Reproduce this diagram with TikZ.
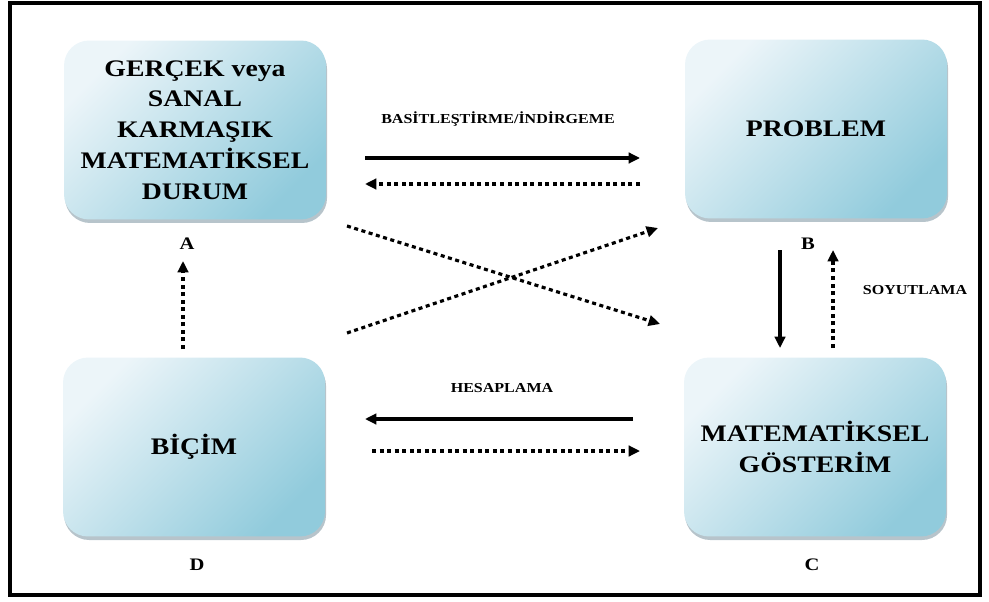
\documentclass[tikz,border=0pt]{standalone}
\usepackage{fontspec}
\setmainfont{Liberation Serif}[FakeStretch=1.17]
\usetikzlibrary{arrows.meta, shadows}

\definecolor{boxlight}{RGB}{236,245,249}
\definecolor{boxdark}{RGB}{145,203,220}
\definecolor{boxshade}{RGB}{95,125,140}

\tikzset{
    box/.style={rounded corners=0.5cm, minimum width=5.24cm, minimum height=3.58cm,
        inner sep=0pt, align=center, top color=boxlight, bottom color=boxdark,
        shading angle=45,
        drop shadow={shadow xshift=0.6pt, shadow yshift=-2pt, opacity=0.45, fill=boxshade},
        font=\fontsize{13.5}{17.5}\selectfont\bfseries},
    letter/.style={font=\fontsize{10}{12}\selectfont\bfseries},
    tag/.style={font=\fontsize{7.8}{9}\selectfont\bfseries},
    full/.style={line width=1.8pt, -{Triangle[length=6.5pt, width=6pt]}},
    dots/.style={line width=1.8pt, dash pattern=on 2.3pt off 2pt,
        -{Triangle[length=6.5pt, width=6pt]}}
}

\begin{document}
\begin{tikzpicture}[x=0.02cm, y=-0.02cm]
    \useasboundingbox (0,0) rectangle (989,601);
    \draw[line width=2.2pt] (10,3) rectangle (980,595);

    % the four boxes
    \node[box] (A) at (195,130) {GERÇEK veya\\SANAL\\KARMAŞIK\\MATEMATİKSEL\\DURUM};
    \node[box] (B) at (816,129) {PROBLEM};
    \node[box] (C) at (815,447) {MATEMATİKSEL\\GÖSTERİM};
    \node[box] (D) at (194,447) {BİÇİM};

    \node[letter] (la) at (187,244) {A};
    \node[letter] (lb) at (808,244) {B};
    \node[letter] (lc) at (812,565) {C};
    \node[letter] (ld) at (197,565) {D};

    % arrow ends
    \coordinate (ab1) at (365,158);  \coordinate (ba1) at (640,158);
    \coordinate (ab2) at (365,184);  \coordinate (ba2) at (640,184);
    \coordinate (ac) at (347,226);   \coordinate (ca) at (660,324);
    \coordinate (db) at (347,333);   \coordinate (bd) at (658,228);
    \coordinate (bc1) at (780,250);  \coordinate (cb1) at (780,348);
    \coordinate (bc2) at (833,250);  \coordinate (cb2) at (833,348);
    \coordinate (cd1) at (633,419);  \coordinate (dc1) at (365,419);
    \coordinate (cd2) at (640,451);  \coordinate (dc2) at (372,451);
    \coordinate (da) at (183,349);   \coordinate (ad) at (183,261);

    \draw[full] (ab1) -- (ba1);
    \draw[dots] (ba2) -- (ab2);
    \draw[dots] (ac) -- (ca);
    \draw[dots] (db) -- (bd);
    \draw[full] (bc1) -- (cb1);
    \draw[dots] (cb2) -- (bc2);
    \draw[full] (cd1) -- (dc1);
    \draw[dots] (dc2) -- (cd2);
    \draw[dots] (da) -- (ad);

    \node[tag] (t1) at (498,119) {BASİTLEŞTİRME/İNDİRGEME};
    \node[tag] (t2) at (915,290) {SOYUTLAMA};
    \node[tag] (t3) at (502,388) {HESAPLAMA};
\end{tikzpicture}
\end{document}
